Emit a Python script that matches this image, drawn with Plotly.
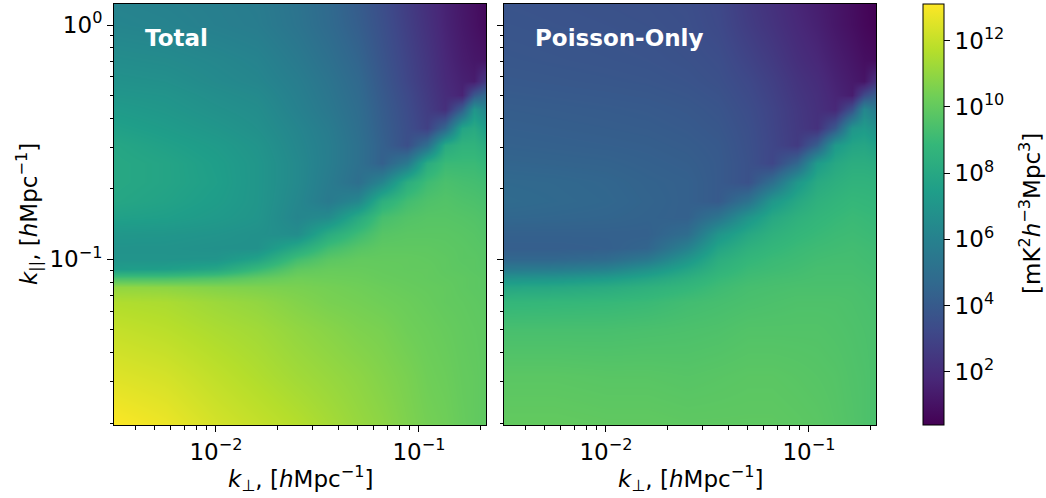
import numpy as np
import plotly.graph_objects as go

# Grid of wavenumbers (log10 of k in h/Mpc)
log_kperp = [-2.50, -2.25, -2.00, -1.80, -1.60, -1.45, -1.30, -1.18, -1.06,
             -0.96, -0.87, -0.79, -0.73, -0.67]
log_kpar = [-1.71, -1.50, -1.30, -1.18, -1.12, -1.08, -1.04, -1.00, -0.95, -0.89,
            -0.82, -0.75, -0.67, -0.59, -0.51, -0.44, -0.36, -0.30, -0.24, -0.15,
            0.00, 0.09]

# log10 of the power spectrum [mK^2 h^-3 Mpc^3]; one list per k_perp column,
# running from low to high k_par
total_cols = [
    [13.1, 12.5, 12.0, 11.6, 11.0, 9.4, 7.4, 6.95, 6.9, 7.1, 7.6, 7.9, 8.0, 8.0, 7.9, 7.6, 7.3, 7.05, 6.85, 6.6, 6.2, 6.1],
    [12.8, 12.3, 11.8, 11.5, 10.9, 9.4, 7.5, 6.95, 6.9, 7.05, 7.5, 7.7, 7.8, 7.8, 7.6, 7.35, 7.1, 6.95, 6.75, 6.5, 6.1, 6.0],
    [12.3, 11.9, 11.5, 11.2, 10.7, 9.6, 7.9, 7.0, 6.8, 6.95, 7.25, 7.4, 7.5, 7.45, 7.3, 7.05, 6.8, 6.65, 6.45, 6.3, 5.9, 5.85],
    [12.0, 11.6, 11.3, 11.0, 10.6, 10.0, 8.9, 7.7, 6.8, 6.8, 7.0, 7.05, 7.05, 7.05, 6.95, 6.75, 6.6, 6.45, 6.25, 6.1, 5.75, 5.7],
    [11.7, 11.3, 11.0, 10.7, 10.5, 10.3, 9.9, 9.2, 8.1, 6.6, 6.2, 6.3, 6.4, 6.4, 6.3, 6.2, 6.0, 5.9, 5.8, 5.6, 5.3, 5.25],
    [11.4, 11.1, 10.8, 10.5, 10.4, 10.25, 10.1, 9.8, 9.2, 8.2, 6.5, 5.6, 5.7, 5.8, 5.8, 5.7, 5.5, 5.4, 5.3, 5.1, 4.8, 4.75],
    [11.1, 10.9, 10.6, 10.4, 10.3, 10.2, 10.1, 10.0, 9.7, 9.1, 8.1, 6.3, 5.0, 5.1, 5.1, 5.0, 4.9, 4.8, 4.7, 4.5, 4.2, 4.1],
    [10.9, 10.7, 10.5, 10.3, 10.2, 10.1, 10.05, 10.0, 9.9, 9.7, 9.3, 8.4, 6.2, 4.3, 4.3, 4.2, 4.1, 4.0, 3.9, 3.75, 3.55, 3.45],
    [10.6, 10.5, 10.3, 10.2, 10.1, 10.05, 10.0, 10.0, 9.9, 9.8, 9.6, 9.2, 8.3, 5.6, 3.5, 3.45, 3.35, 3.25, 3.1, 3.0, 2.8, 2.7],
    [10.4, 10.3, 10.2, 10.1, 10.05, 10.0, 10.0, 9.95, 9.9, 9.8, 9.7, 9.5, 9.1, 8.2, 5.0, 2.85, 2.7, 2.6, 2.5, 2.4, 2.2, 2.1],
    [10.3, 10.2, 10.1, 10.0, 10.0, 9.95, 9.9, 9.9, 9.85, 9.8, 9.7, 9.6, 9.4, 9.0, 8.1, 4.6, 2.1, 2.0, 1.9, 1.8, 1.65, 1.6],
    [10.1, 10.05, 10.0, 9.95, 9.9, 9.9, 9.85, 9.8, 9.8, 9.75, 9.65, 9.5, 9.3, 9.0, 8.6, 7.8, 4.2, 1.65, 1.55, 1.4, 1.25, 1.2],
    [10.0, 10.0, 9.95, 9.9, 9.85, 9.85, 9.8, 9.8, 9.75, 9.7, 9.6, 9.45, 9.25, 9.0, 8.6, 8.1, 7.0, 3.9, 1.4, 1.2, 1.0, 0.95],
    [9.9, 9.9, 9.9, 9.85, 9.8, 9.8, 9.75, 9.7, 9.7, 9.6, 9.5, 9.35, 9.15, 8.8, 8.2, 7.4, 6.2, 4.8, 2.6, 1.1, 0.7, 0.65],
]
poisson_cols = [
    [10.0, 9.8, 9.35, 8.8, 7.9, 6.9, 5.6, 4.6, 4.2, 4.3, 4.6, 4.8, 4.7, 4.5, 4.35, 4.25, 4.15, 4.05, 3.95, 3.85, 3.75, 3.7],
    [10.0, 9.8, 9.35, 8.85, 8.0, 7.0, 5.7, 4.6, 4.2, 4.3, 4.55, 4.7, 4.65, 4.45, 4.3, 4.2, 4.1, 4.0, 3.9, 3.8, 3.7, 3.65],
    [9.95, 9.75, 9.35, 8.9, 8.2, 7.3, 6.0, 4.8, 4.25, 4.3, 4.5, 4.6, 4.55, 4.4, 4.25, 4.15, 4.05, 3.95, 3.85, 3.75, 3.65, 3.6],
    [9.95, 9.75, 9.4, 9.0, 8.5, 7.8, 6.8, 5.5, 4.5, 4.3, 4.4, 4.45, 4.4, 4.3, 4.2, 4.1, 4.0, 3.9, 3.8, 3.7, 3.6, 3.55],
    [9.9, 9.7, 9.45, 9.2, 8.8, 8.4, 7.8, 7.0, 6.0, 4.9, 4.3, 4.3, 4.3, 4.2, 4.1, 4.0, 3.9, 3.8, 3.7, 3.6, 3.5, 3.45],
    [9.9, 9.75, 9.5, 9.3, 9.1, 8.9, 8.6, 8.3, 7.8, 7.0, 5.3, 4.0, 4.0, 4.0, 3.95, 3.85, 3.75, 3.65, 3.55, 3.45, 3.25, 3.2],
    [9.9, 9.8, 9.6, 9.4, 9.3, 9.15, 9.0, 8.8, 8.5, 8.0, 7.0, 5.2, 3.6, 3.6, 3.55, 3.5, 3.4, 3.3, 3.2, 3.0, 2.7, 2.6],
    [9.9, 9.8, 9.6, 9.45, 9.35, 9.25, 9.1, 9.0, 8.8, 8.5, 8.0, 7.1, 5.0, 3.1, 3.1, 3.05, 3.0, 2.9, 2.8, 2.6, 2.3, 2.2],
    [9.85, 9.75, 9.6, 9.5, 9.4, 9.3, 9.2, 9.1, 9.0, 8.8, 8.5, 8.0, 7.1, 4.6, 2.6, 2.55, 2.5, 2.4, 2.3, 2.1, 1.85, 1.75],
    [9.8, 9.7, 9.6, 9.5, 9.4, 9.35, 9.3, 9.2, 9.1, 8.95, 8.75, 8.5, 8.1, 7.3, 4.2, 2.2, 2.15, 2.1, 2.0, 1.8, 1.55, 1.45],
    [9.7, 9.65, 9.55, 9.5, 9.4, 9.35, 9.3, 9.25, 9.15, 9.05, 8.9, 8.7, 8.4, 8.0, 7.2, 3.9, 1.8, 1.7, 1.6, 1.45, 1.2, 1.15],
    [9.6, 9.55, 9.5, 9.45, 9.4, 9.35, 9.3, 9.25, 9.2, 9.1, 9.0, 8.85, 8.6, 8.3, 7.8, 7.0, 3.6, 1.4, 1.3, 1.15, 0.9, 0.85],
    [9.5, 9.5, 9.45, 9.4, 9.35, 9.3, 9.25, 9.2, 9.15, 9.05, 8.95, 8.8, 8.6, 8.3, 7.9, 7.3, 6.3, 3.3, 1.1, 0.9, 0.65, 0.6],
    [9.4, 9.4, 9.4, 9.35, 9.3, 9.25, 9.2, 9.15, 9.1, 9.0, 8.9, 8.75, 8.55, 8.2, 7.6, 6.8, 5.6, 4.2, 2.3, 0.8, 0.45, 0.4],
]
panel_titles = ["Total", "Poisson-Only"]

# Tick labels
x_major = [-2, -1]
y_major = [-1, 0]
cbar_exponents = [2, 4, 6, 8, 10, 12]


def pow10(e):
    return "10<sup>%s</sup>" % (str(e).replace("-", "\u2212"))


def minor_ticks(e_lo, e_hi):
    return [float(np.log10(m * 10.0 ** e)) for e in range(e_lo, e_hi + 1) for m in range(2, 10)]


W, H = 1046, 498
FONT = "DejaVu Sans"
FS = 23

x_range = [-2.502, -0.670]
y_range = [-1.707, 0.0896]

fig = go.Figure()
for i, cols in enumerate([total_cols, poisson_cols]):
    z = np.array(cols).T
    fig.add_trace(go.Heatmap(
        x=log_kperp, y=log_kpar, z=z,
        coloraxis="coloraxis", zsmooth="best",
        xaxis="x" if i == 0 else "x2", yaxis="y" if i == 0 else "y2",
        hoverinfo="skip",
    ))

common_axis = dict(
    ticks="outside", ticklen=6, tickwidth=1, tickcolor="black",
    showline=True, mirror=True, linecolor="black", linewidth=1,
    showgrid=False, zeroline=False,
    tickfont=dict(family=FONT, size=FS, color="black"),
)
xminor = dict(tickvals=[v for v in minor_ticks(-3, -1) if x_range[0] <= v <= x_range[1]],
              ticks="outside", ticklen=3.5, tickwidth=1, tickcolor="black", showgrid=False)
yminor = dict(tickvals=[v for v in minor_ticks(-2, 0) if y_range[0] <= v <= y_range[1]],
              ticks="outside", ticklen=3.5, tickwidth=1, tickcolor="black", showgrid=False)

ydom = [73 / H, 494 / H]
fig.update_layout(
    width=W, height=H,
    margin=dict(l=0, r=0, t=0, b=0),
    paper_bgcolor="white", plot_bgcolor="white",
    font=dict(family=FONT, size=FS, color="black"),
    xaxis=dict(domain=[114 / W, 486 / W], range=x_range, anchor="y",
               tickvals=x_major, ticktext=[pow10(e) for e in x_major],
               minor=xminor, **common_axis),
    yaxis=dict(domain=ydom, range=y_range, anchor="x",
               tickvals=y_major, ticktext=[pow10(e) for e in y_major],
               minor=yminor, **common_axis),
    xaxis2=dict(domain=[504 / W, 876 / W], range=x_range, anchor="y2",
                tickvals=x_major, ticktext=[pow10(e) for e in x_major],
                minor=xminor, **common_axis),
    yaxis2=dict(domain=ydom, range=y_range, anchor="x2",
                tickvals=y_major, showticklabels=False,
                minor=yminor, **common_axis),
    coloraxis=dict(
        colorscale="Viridis", cmin=0.39, cmax=13.11,
        colorbar=dict(
            x=923 / W, xanchor="left", y=73 / H, yanchor="bottom",
            len=421 / H, lenmode="fraction", thickness=21, thicknessmode="pixels",
            xpad=0, ypad=0, outlinewidth=1, outlinecolor="black",
            ticks="outside", ticklen=6, tickwidth=1, tickcolor="black",
            tickvals=cbar_exponents, ticktext=[pow10(e) for e in cbar_exponents],
            tickfont=dict(family=FONT, size=FS, color="black"),
        ),
    ),
)

ann = []
for title, x0 in zip(panel_titles, [143, 533]):
    ann.append(dict(text="<b>%s</b>" % title, x=x0 / W, y=1 - 38 / H,
                    xref="paper", yref="paper", xanchor="left", yanchor="middle",
                    showarrow=False, font=dict(family=FONT, size=FS, color="white")))
xlabel = "<i>k</i><sub>\u22a5</sub>, [<i>h</i>Mpc<sup>\u22121</sup>]"
ylabel = "<i>k</i><sub>||</sub>, [<i>h</i>Mpc<sup>\u22121</sup>]"
for xc in [300, 690]:
    ann.append(dict(text=xlabel, x=xc / W, y=1 - 478 / H, xref="paper", yref="paper",
                    xanchor="center", yanchor="middle", showarrow=False,
                    font=dict(family=FONT, size=FS, color="black")))
ann.append(dict(text=ylabel, x=28 / W, y=1 - 214 / H, xref="paper", yref="paper",
                xanchor="center", yanchor="middle", textangle=-90, showarrow=False,
                font=dict(family=FONT, size=FS, color="black")))
ann.append(dict(text="[mK<sup>2</sup><i>h</i><sup>\u22123</sup>Mpc<sup>3</sup>]",
                x=1030 / W, y=1 - 214 / H, xref="paper", yref="paper",
                xanchor="center", yanchor="middle", textangle=-90, showarrow=False,
                font=dict(family=FONT, size=FS, color="black")))
fig.update_layout(annotations=ann)

fig.write_html("out.html")
